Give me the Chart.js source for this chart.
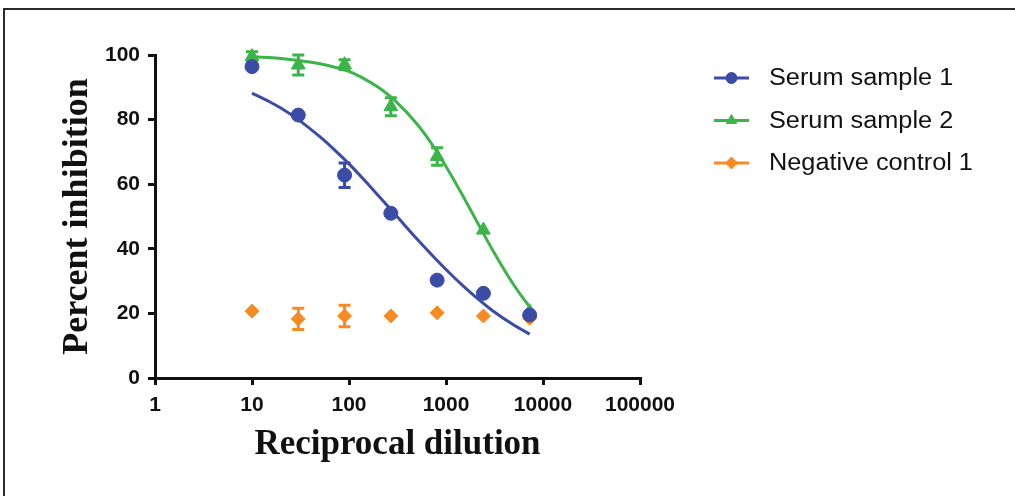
<!DOCTYPE html>
<html>
<head>
<meta charset="utf-8">
<script src="https://cdn.jsdelivr.net/npm/chart.js@4/dist/chart.umd.min.js"></script>
<style>
  body { margin: 0; background: #fff; }
  #wrap { position: relative; width: 1015px; height: 496px; overflow: hidden; }
  #frame {
    position: absolute; top: 8px; left: 3px; width: 1100px; height: 600px;
    border-top: 2px solid #2b2b2b; border-left: 2px solid #2b2b2b;
  }
  canvas { position: absolute; top: 0; left: 0; }
</style>
</head>
<body>
<div id="wrap">
  <div id="frame"></div>
  <canvas id="chart" width="1015" height="496"></canvas>
</div>
<script>
// measured points (3-fold dilutions)
const dilutions = [10, 30, 90, 270, 810, 2430, 7290];
const serum1 = [96.4, 81.4, 62.8, 51, 30.3, 26.2, 19.5];
const serum1Err = [0, 0, 3.8, 0, 0, 0, 0];
const serum2 = [99.5, 96.9, 97, 84, 68.6, 45.8, 20.5];
const serum2Err = [1.5, 3.1, 1.5, 2.8, 2.7, 0, 0];
const control1 = [20.7, 18.3, 19.2, 19.2, 20.2, 19.2, 18.5];
const control1Err = [0, 3.3, 3.3, 0, 0, 0, 0];

// fitted curves
const fitX = [10, 15, 20, 30, 50, 70, 100, 150, 200, 300, 500, 700, 1000, 1500, 2000, 3000, 5000, 7290];
const fit1 = [88.2, 85.6, 83.5, 80, 74.7, 70.8, 66.3, 60.7, 56.5, 50.6, 43.1, 38.4, 33.6, 28.5, 25.2, 20.9, 16.4, 13.6];
const fit2 = [99.5, 99.2, 98.9, 98.3, 97.3, 96.3, 94.9, 92.3, 90, 85.8, 78.7, 72.8, 65.5, 56.3, 49.4, 39.8, 28.8, 22];

const xTicks = [1, 10, 100, 1000, 10000, 100000];
const seriesNames = ["Serum sample 1", "Serum sample 2", "Negative control 1"];

const BLUE = "#3a4ca6";
const GREEN = "#3bb44a";
const ORANGE = "#f58b22";

function toPoints(xs, ys) {
  return xs.map((x, i) => ({ x: x, y: ys[i] }));
}

function pointSet(label, values, errs, color, style, radius) {
  return {
    label: label,
    data: toPoints(dilutions, values),
    errors: errs,
    showLine: false,
    pointStyle: style,
    pointRadius: radius,
    pointHoverRadius: radius,
    backgroundColor: color,
    borderColor: color,
    borderWidth: 1,
    clip: false,
  };
}

function curveSet(values, color) {
  return {
    label: "",
    data: toPoints(fitX, values),
    pointRadius: 0,
    borderColor: color,
    borderWidth: 3,
    cubicInterpolationMode: "monotone",
    fill: false,
    clip: false,
  };
}

// error bars under each point set
const errorBars = {
  id: "errorBars",
  beforeDatasetDraw(chart, args) {
    const ds = chart.data.datasets[args.index];
    if (!ds.errors) return;
    const { ctx } = chart;
    const x = chart.scales.x;
    const y = chart.scales.y;
    ctx.save();
    ctx.strokeStyle = ds.borderColor;
    ctx.lineWidth = 3;
    ds.data.forEach((p, i) => {
      const e = ds.errors[i];
      if (!e) return;
      const px = x.getPixelForValue(p.x);
      const top = y.getPixelForValue(p.y + e);
      const bot = y.getPixelForValue(p.y - e);
      ctx.beginPath();
      ctx.moveTo(px, top);
      ctx.lineTo(px, bot);
      ctx.moveTo(px - 6, top);
      ctx.lineTo(px + 6, top);
      ctx.moveTo(px - 6, bot);
      ctx.lineTo(px + 6, bot);
      ctx.stroke();
    });
    ctx.restore();
  },
};

// legend: line with marker in the middle
const sideLegend = {
  id: "sideLegend",
  afterDraw(chart) {
    const { ctx } = chart;
    const items = [
      { color: BLUE, style: "circle", r: 5.5 },
      { color: GREEN, style: "triangle", r: 6 },
      { color: ORANGE, style: "rectRot", r: 6 },
    ];
    ctx.save();
    items.forEach((it, i) => {
      const cy = 78 + i * 42.5;
      ctx.strokeStyle = it.color;
      ctx.fillStyle = it.color;
      ctx.lineWidth = 3;
      ctx.beginPath();
      ctx.moveTo(714, cy);
      ctx.lineTo(749, cy);
      ctx.stroke();
      ctx.lineWidth = 1;
      Chart.helpers.drawPoint(ctx, { pointStyle: it.style, radius: it.r, rotation: 0, borderWidth: 1 }, 731.5, cy);
      ctx.save();
      ctx.translate(769, cy + 1);
      ctx.scale(1.1, 1);
      ctx.fillStyle = "#111";
      ctx.font = "23px 'Liberation Sans', Arial, sans-serif";
      ctx.textBaseline = "middle";
      ctx.fillText(seriesNames[i], 0, 0);
      ctx.restore();
    });
    ctx.restore();
  },
};

function noPad(scale) {
  scale.paddingLeft = 0;
  scale.paddingRight = 0;
  scale.paddingTop = 0;
  scale.paddingBottom = 0;
}

new Chart(document.getElementById("chart").getContext("2d"), {
  type: "line",
  data: {
    datasets: [
      pointSet(seriesNames[0], serum1, serum1Err, BLUE, "circle", 7),
      curveSet(fit1, BLUE),
      pointSet(seriesNames[1], serum2, serum2Err, GREEN, "triangle", 8),
      curveSet(fit2, GREEN),
      pointSet(seriesNames[2], control1, control1Err, ORANGE, "rectRot", 7),
    ],
  },
  options: {
    responsive: false,
    animation: false,
    events: [],
    layout: { padding: { left: 0, top: 55, right: 375, bottom: 0 } },
    plugins: { legend: { display: false }, tooltip: { enabled: false } },
    scales: {
      x: {
        type: "logarithmic",
        min: 1,
        max: 100000,
        afterBuildTicks(scale) {
          scale.ticks = xTicks.map((v) => ({ value: v }));
        },
        afterFit(scale) {
          scale.height = 118;
          noPad(scale);
        },
        ticks: {
          autoSkip: false,
          maxRotation: 0,
          color: "#111",
          padding: 8,
          font: { family: "'Liberation Sans', Arial, sans-serif", size: 21, weight: "bold" },
          callback: (v) => String(v),
        },
        grid: { display: true, drawOnChartArea: false, drawTicks: true, tickLength: 7, color: "#111", lineWidth: 3 },
        border: { display: true, color: "#111", width: 3 },
        title: {
          display: true,
          text: "Reciprocal dilution",
          color: "#111",
          padding: { top: 0, bottom: 30 },
          font: { family: "'Liberation Serif', 'Times New Roman', serif", size: 35, weight: "bold" },
        },
      },
      y: {
        min: 0,
        max: 100,
        afterFit(scale) {
          scale.width = 155;
          noPad(scale);
        },
        ticks: {
          stepSize: 20,
          color: "#111",
          padding: 8,
          font: { family: "'Liberation Sans', Arial, sans-serif", size: 21, weight: "bold" },
        },
        grid: { display: true, drawOnChartArea: false, drawTicks: true, tickLength: 7, color: "#111", lineWidth: 3 },
        border: { display: true, color: "#111", width: 3 },
        title: {
          display: true,
          text: "Percent inhibition",
          color: "#111",
          padding: { top: 56, bottom: 0 },
          font: { family: "'Liberation Serif', 'Times New Roman', serif", size: 36, weight: "bold" },
        },
      },
    },
  },
  plugins: [errorBars, sideLegend],
});
</script>
</body>
</html>
